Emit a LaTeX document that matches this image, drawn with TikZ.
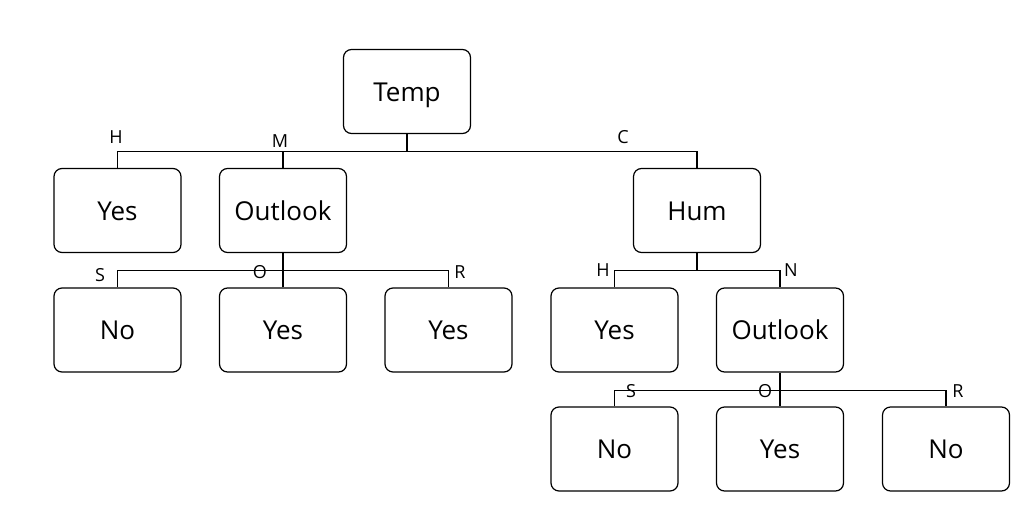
\documentclass[tikz,border=0pt]{standalone}
\usepackage{fontspec}
\setmainfont{Open Sans}
\begin{document}
\begin{tikzpicture}[x=1pt,y=-1pt,
  box/.style={draw,line width=1.2pt,rounded corners=8pt,minimum width=127pt,minimum height=84pt,inner sep=0pt,text height=19pt,text depth=0pt,font=\fontsize{26}{30}\selectfont},
  lbl/.style={inner sep=0pt,text height=12.5pt,text depth=0pt,font=\fontsize{18}{22}\selectfont},
  conn/.style={line width=1.2pt}]
\useasboundingbox (0,0) rectangle (1033,522);
\node[box] (temp) at (407,91.5) {Temp};
\node[box] (yes1) at (117.5,210.5) {Yes};
\node[box] (out1) at (283,210.5) {Outlook};
\node[box] (hum) at (697,210.5) {Hum};
\node[box] (no1) at (117.5,330) {No};
\node[box] (yes2) at (283,330) {Yes};
\node[box] (yes3) at (448.5,330) {Yes};
\node[box] (yes4) at (614.5,330) {Yes};
\node[box] (out2) at (780,330) {Outlook};
\node[box] (no2) at (614.5,449) {No};
\node[box] (yes5) at (780,449) {Yes};
\node[box] (no3) at (946,449) {No};
% connectors
\draw[conn] (temp.south) -- ++(0,17.5) coordinate (tj);
\draw[conn] (yes1.north) |- (tj) -| (hum.north);
\draw[conn] (out1.north) -- (out1.north |- tj);
\draw[conn] (out1.south) -- ++(0,17.5) coordinate (oj);
\draw[conn] (no1.north) |- (oj) -| (yes3.north);
\draw[conn] (yes2.north) -- (oj);
\draw[conn] (hum.south) -- ++(0,17.5) coordinate (hj);
\draw[conn] (yes4.north) |- (hj) -| (out2.north);
\draw[conn] (out2.south) -- ++(0,17.5) coordinate (pj);
\draw[conn] (no2.north) |- (pj) -| (no3.north);
\draw[conn] (yes5.north) -- (pj);
% labels
\node[lbl] (lh) at (116,137) {\fontsize{18}{22}\selectfont H};
\node[lbl] (lm) at (280,141) {\fontsize{18}{22}\selectfont M};
\node[lbl] (lc) at (623,137) {\fontsize{18}{22}\selectfont C};
\node[lbl] (ls1) at (100,275) {\fontsize{18}{22}\selectfont S};
\node[lbl] (lo1) at (260,272) {\fontsize{18}{22}\selectfont O};
\node[lbl] (lr1) at (460,272) {\fontsize{18}{22}\selectfont R};
\node[lbl] (lh2) at (603,270.5) {\fontsize{18}{22}\selectfont H};
\node[lbl] (ln2) at (791,270.5) {\fontsize{18}{22}\selectfont N};
\node[lbl] (ls2) at (631,391) {\fontsize{18}{22}\selectfont S};
\node[lbl] (lo2) at (765,391) {\fontsize{18}{22}\selectfont O};
\node[lbl] (lr2) at (958,391) {\fontsize{18}{22}\selectfont R};
\end{tikzpicture}
\end{document}
